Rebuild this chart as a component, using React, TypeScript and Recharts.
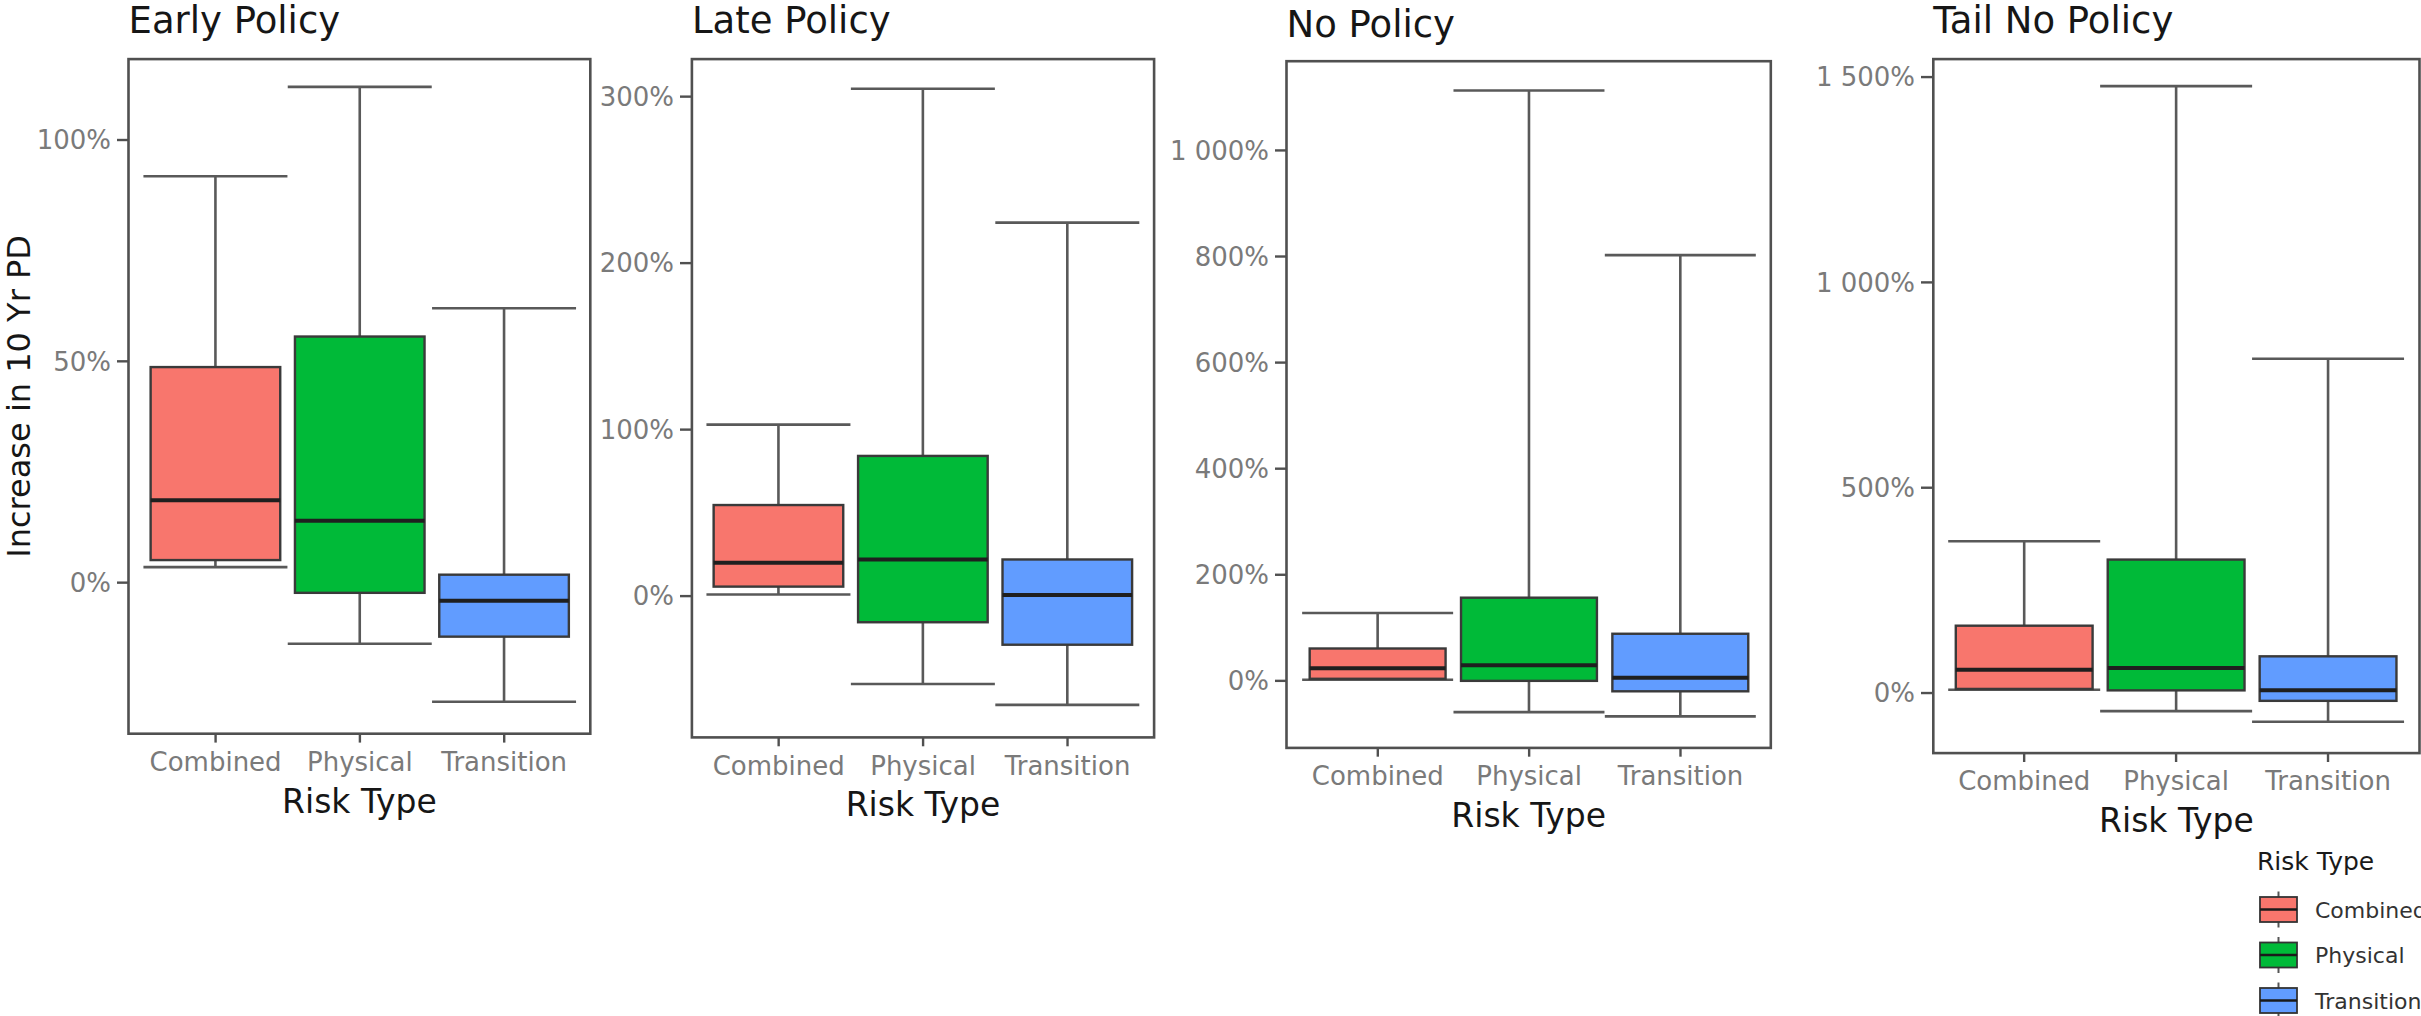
import React from 'react';
import { ComposedChart, Bar, XAxis, YAxis } from 'recharts';

// ---------- data ----------
const riskTypes = ['Combined', 'Physical', 'Transition'];
const panelTitles = ['Early Policy', 'Late Policy', 'No Policy', 'Tail No Policy'];

// [lower whisker, Q1, median, Q3, upper whisker] in %
const earlyCombined = [3.5, 5.1, 18.6, 48.7, 91.8];
const earlyPhysical = [-13.8, -2.3, 14.0, 55.6, 112];
const earlyTransition = [-26.9, -12.2, -4.1, 1.8, 62];

const lateCombined = [1, 5.7, 20.1, 54.7, 103];
const latePhysical = [-52.8, -15.7, 22, 84.2, 304.7];
const lateTransition = [-65.3, -29.2, 0.6, 22, 224.3];

const noCombined = [2, 3.9, 23.7, 61, 128];
const noPhysical = [-59, 0, 29.6, 156.8, 1113];
const noTransition = [-67, -19.7, 5.9, 88.8, 802.7];

const tailCombined = [8, 10, 57, 164, 369.6];
const tailPhysical = [-44, 6.5, 61, 325, 1478];
const tailTransition = [-70, -19, 6.5, 89.4, 814];

const earlyTicks = [0, 50, 100];
const lateTicks = [0, 100, 200, 300];
const noTicks = [0, 200, 400, 600, 800, 1000];
const tailTicks = [0, 500, 1000, 1500];

const earlyDomain = [-34.1, 118.3];
const lateDomain = [-84.8, 322.6];
const noDomain = [-126, 1168.6];
const tailDomain = [-146, 1544];

// ---------- styles ----------
const riskColors = ['#F8766D', '#00BA38', '#619CFF'];
const FONT = 'DejaVu Sans';
const TICK_COLOR = '#7a7a7a';
const FRAME_COLOR = '#505050';

const buildRows = (sets: number[][]) =>
  riskTypes.map((name, i) => ({
    name,
    range: [sets[i][0], sets[i][4]],
    q1: sets[i][1],
    median: sets[i][2],
    q3: sets[i][3],
  }));

const panels = [
  { title: panelTitles[0], rows: buildRows([earlyCombined, earlyPhysical, earlyTransition]), ticks: earlyTicks, domain: earlyDomain },
  { title: panelTitles[1], rows: buildRows([lateCombined, latePhysical, lateTransition]), ticks: lateTicks, domain: lateDomain },
  { title: panelTitles[2], rows: buildRows([noCombined, noPhysical, noTransition]), ticks: noTicks, domain: noDomain },
  { title: panelTitles[3], rows: buildRows([tailCombined, tailPhysical, tailTransition]), ticks: tailTicks, domain: tailDomain },
];

// plot-area boxes (page px) and title baselines
const layout = [
  { l: 128.5, r: 590.3, t: 59.1, b: 733.7, titleY: 33 },
  { l: 691.9, r: 1154.1, t: 59.1, b: 737.4, titleY: 33 },
  { l: 1286.5, r: 1770.8, t: 61.2, b: 747.9, titleY: 37 },
  { l: 1933.3, r: 2419.5, t: 59.1, b: 753.1, titleY: 33 },
];

const fmtPct = (v: number) => {
  const s = Math.abs(v) >= 1000 ? String(v).replace(/\B(?=(\d{3})+(?!\d))/g, ' ') : String(v);
  return `${s}%`;
};

const BoxShape = (props: any) => {
  const { x, y, width, height, payload, index } = props;
  if (x == null || y == null || !payload) return null;
  const top = Math.min(y, y + height);
  const bottom = Math.max(y, y + height);
  const [low, high] = payload.range;
  const toPx = (v: number) => top + ((high - v) / (high - low)) * (bottom - top);
  const cx = x + width / 2;
  const boxW = width * 0.9;
  const yq1 = toPx(payload.q1);
  const yq3 = toPx(payload.q3);
  const ymed = toPx(payload.median);
  const wStroke = '#595959';
  const ww = 2.6;
  return (
    <g>
      <line x1={cx} x2={cx} y1={top} y2={yq3} stroke={wStroke} strokeWidth={ww} />
      <line x1={cx} x2={cx} y1={yq1} y2={bottom} stroke={wStroke} strokeWidth={ww} />
      <line x1={x} x2={x + width} y1={top} y2={top} stroke={wStroke} strokeWidth={ww} />
      <line x1={x} x2={x + width} y1={bottom} y2={bottom} stroke={wStroke} strokeWidth={ww} />
      <rect x={cx - boxW / 2} y={yq3} width={boxW} height={yq1 - yq3} fill={riskColors[index % 3]} stroke="#3a3a3a" strokeWidth={2.4} />
      <line x1={cx - boxW / 2} x2={cx + boxW / 2} y1={ymed} y2={ymed} stroke="#1f1f1f" strokeWidth={4} />
    </g>
  );
};

const mL = 5, mT = 20, mR = 6, mB = 5, yW = 130, xH = 70;

function Panel({ idx }: { idx: number }) {
  const p = panels[idx];
  const L = layout[idx];
  const W = L.r - L.l;
  const H = L.b - L.t;
  const u = W / 3.2;
  return (
    <div style={{ position: 'absolute', left: L.l - yW - mL, top: L.t - mT }}>
      <ComposedChart
        width={W + yW + mL + mR}
        height={H + mT + mB + xH}
        data={p.rows}
        margin={{ top: mT, right: mR, left: mL, bottom: mB }}
        barCategoryGap={0}
        barGap={0}
      >
        <XAxis
          dataKey="name"
          type="category"
          padding={{ left: u * 0.1, right: u * 0.1 }}
          height={xH}
          axisLine={false}
          tickLine={{ stroke: FRAME_COLOR, strokeWidth: 2.4 }}
          tickSize={9}
          tickMargin={10}
          interval={0}
          tick={{ fill: TICK_COLOR, fontSize: 26, fontFamily: FONT }}
        />
        <YAxis
          type="number"
          domain={p.domain}
          allowDataOverflow
          ticks={p.ticks}
          width={yW}
          axisLine={false}
          tickLine={{ stroke: FRAME_COLOR, strokeWidth: 2.4 }}
          tickSize={12}
          tickMargin={6}
          tickFormatter={fmtPct}
          tick={{ fill: TICK_COLOR, fontSize: 26, fontFamily: FONT }}
        />
        <Bar dataKey="range" isAnimationActive={false} shape={(sp: any) => <BoxShape {...sp} />} />
      </ComposedChart>
    </div>
  );
}

export default function App() {
  return (
    <div
      style={{
        position: 'absolute',
        left: 0,
        top: 0,
        width: 2421,
        height: 1016,
        background: '#ffffff',
        overflow: 'hidden',
        fontFamily: FONT,
      }}
    >
      {panels.map((_, i) => (
        <Panel key={i} idx={i} />
      ))}
      <svg
        width={2421}
        height={1016}
        style={{ position: 'absolute', left: 0, top: 0, pointerEvents: 'none' }}
      >
        {layout.map((L, i) => (
          <g key={i}>
            <rect x={L.l} y={L.t} width={L.r - L.l} height={L.b - L.t} fill="none" stroke={FRAME_COLOR} strokeWidth={2.6} />
            <text x={L.l} y={L.titleY} fontFamily={FONT} fontSize={37} fill="#161616">
              {panels[i].title}
            </text>
            <text x={(L.l + L.r) / 2} y={L.b + 79} fontFamily={FONT} fontSize={33} fill="#161616" textAnchor="middle">
              Risk Type
            </text>
          </g>
        ))}
        <text
          transform={`translate(30, ${(layout[0].t + layout[0].b) / 2}) rotate(-90)`}
          fontFamily={FONT}
          fontSize={32}
          fill="#161616"
          textAnchor="middle"
        >
          Increase in 10 Yr PD
        </text>
        {/* legend */}
        <text x={2257} y={870} fontFamily={FONT} fontSize={25} fill="#1a1a1a">
          Risk Type
        </text>
        {riskTypes.map((name, i) => {
          const cy = 909.5 + i * 45.5;
          return (
            <g key={name}>
              <line x1={2278.5} x2={2278.5} y1={cy - 18} y2={cy + 18} stroke="#555555" strokeWidth={2} />
              <rect x={2260} y={cy - 12.5} width={37} height={25} fill={riskColors[i]} stroke="#333333" strokeWidth={1.8} />
              <line x1={2260} x2={2297} y1={cy} y2={cy} stroke="#1a1a1a" strokeWidth={2.5} />
              <text x={2315} y={cy + 8} fontFamily={FONT} fontSize={22} fill="#333333">
                {name}
              </text>
            </g>
          );
        })}
      </svg>
    </div>
  );
}
